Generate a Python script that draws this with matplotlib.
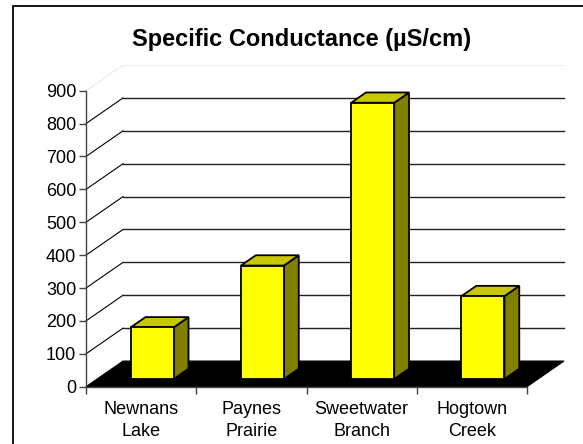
import matplotlib
matplotlib.use("Agg")
import matplotlib.pyplot as plt
from matplotlib.patches import Polygon, Rectangle
from matplotlib.ticker import FixedLocator

plt.rcParams['font.family'] = ['Liberation Sans', 'DejaVu Sans']

# Data
categories = ["Newnans\nLake", "Paynes\nPrairie", "Sweetwater\nBranch", "Hogtown\nCreek"]
conductance = [157, 345, 840, 252]
y_ticks = [0, 100, 200, 300, 400, 500, 600, 700, 800, 900]
title = "Specific Conductance (µS/cm)"

W, H = 583, 444
fig = plt.figure(figsize=(W / 100, H / 100), dpi=100)
fig.patch.set_facecolor("white")

# Outer chart-area border (extends past the right and bottom edges)
fig.patches.append(Rectangle((12.5 / W, -0.05), 1.2, (H - 6) / H + 0.05,
                             transform=fig.transFigure, fill=False,
                             edgecolor="black", linewidth=1.3, zorder=0))

# Front plane of the 3-D box
ax = fig.add_axes([86 / W, (H - 386.7) / H, 441 / W, 296 / H])
ax.set_xlim(0, len(categories))
ax.set_ylim(0, 900)
ax.set_facecolor("none")
for s in ["top", "right", "bottom"]:
    ax.spines[s].set_visible(False)
ax.spines["left"].set_color("#444444")
ax.spines["left"].set_linewidth(1.0)

# Oblique depth offset of the floor / walls (data units)
depth_dx = 37 / 110.25
depth_dy = 78.0
bar_w = 0.39
bar_front = 0.3   # fraction of depth where the bar front face sits
bar_depth = 0.4   # fraction of depth occupied by each bar

n = len(categories)
ymax = y_ticks[-1]

# Left wall diagonals and back-wall gridlines
for t in y_ticks[1:-1]:
    ax.plot([0, depth_dx], [t, t + depth_dy], color="black", lw=0.8,
            clip_on=False, zorder=1)
    ax.plot([depth_dx, n + depth_dx], [t + depth_dy, t + depth_dy],
            color="#222222", lw=1.0, clip_on=False, zorder=1)
# faint upper edges of the walls
ax.plot([0, depth_dx], [ymax, ymax + depth_dy], color="#dddddd", lw=0.8,
        ls=(0, (1.5, 1)), clip_on=False, zorder=1)
ax.plot([depth_dx, n + depth_dx], [ymax + depth_dy, ymax + depth_dy],
        color="#f0f0f0", lw=0.8, clip_on=False, zorder=1)

# Floor
ax.add_patch(Polygon([(0, 0), (n, 0), (n + depth_dx, depth_dy), (depth_dx, depth_dy)],
                     closed=True, facecolor="black", edgecolor="black", lw=0.8,
                     clip_on=False, zorder=2))

# 3-D bars
bdx = bar_depth * depth_dx
bdy = bar_depth * depth_dy
for i, v in enumerate(conductance):
    x0 = i + 0.5 - bar_w / 2 + bar_front * depth_dx
    y0 = bar_front * depth_dy
    side = Polygon([(x0 + bar_w, y0), (x0 + bar_w + bdx, y0 + bdy),
                    (x0 + bar_w + bdx, y0 + v + bdy), (x0 + bar_w, y0 + v)],
                   closed=True, facecolor="#808000", edgecolor="black", lw=1.3,
                   clip_on=False, zorder=3, joinstyle="miter")
    top = Polygon([(x0, y0 + v), (x0 + bar_w, y0 + v), (x0 + bar_w + bdx, y0 + v + bdy),
                   (x0 + bdx, y0 + v + bdy)],
                  closed=True, facecolor="#C8C800", edgecolor="black", lw=1.3,
                  clip_on=False, zorder=3, joinstyle="miter")
    front = Rectangle((x0, y0), bar_w, v, facecolor="#FFFF00", edgecolor="black",
                      lw=1.3, clip_on=False, zorder=4, joinstyle="miter")
    for p in (side, top, front):
        ax.add_patch(p)

# Category axis along the front edge of the floor
ax.plot([0, n], [0, 0], color="#444444", lw=1.0, clip_on=False, zorder=2)
ax.set_xticks(range(n + 1))
ax.set_xticklabels([])
ax.tick_params(axis="x", which="major", direction="out", length=5,
               color="#444444", width=1.0)
ax.xaxis.set_minor_locator(FixedLocator([i + 0.5 for i in range(n)]))
ax.set_xticklabels(categories, minor=True, fontsize=13, linespacing=1.45)
ax.tick_params(axis="x", which="minor", length=0, pad=10)

# Value axis
ax.set_yticks(y_ticks)
ax.set_yticklabels([str(t) for t in y_ticks], fontsize=13)
ax.tick_params(axis="y", direction="out", length=5, color="#444444", width=1.0, pad=2)

fig.text(301.7 / W, (H - 46) / H, title, ha="center", va="baseline",
         fontsize=17, fontweight="bold")

fig.savefig("out.png", dpi=100)
